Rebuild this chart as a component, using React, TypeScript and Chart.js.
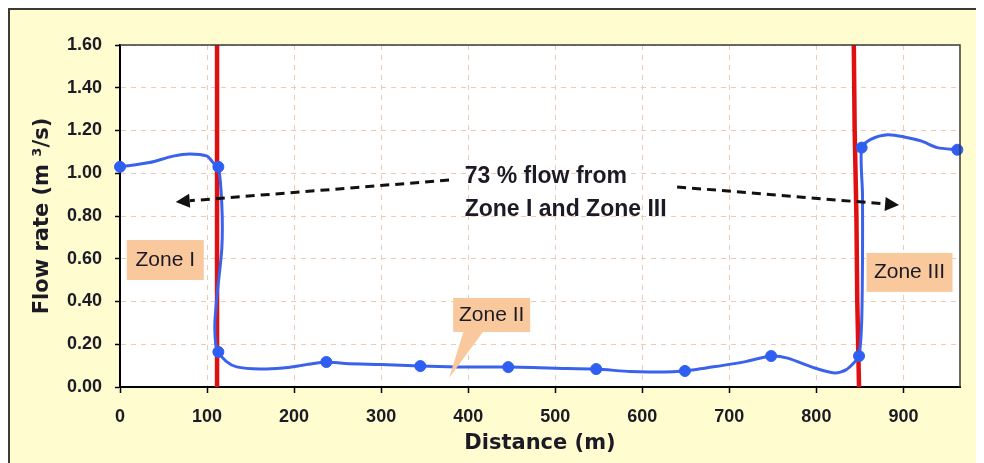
import React, { useEffect, useRef } from "react";
import { Chart, registerables } from "chart.js";

Chart.register(...registerables);

// ---- data ----
const flowDistance = [
  0, 34, 61, 80, 100, 107, 113, 117, 117, 112, 109, 110, 113, 122, 134, 161, 187, 207, 222, 237,
  259, 300, 345, 387, 446, 500, 547, 586, 614, 649, 691, 720, 748, 767, 798, 821, 834, 844, 849,
  852, 853, 853, 852, 863, 882, 901, 921, 939, 962,
];
const flowRate = [
  1.03, 1.05, 1.08, 1.09, 1.08, 1.05, 1.03, 0.85, 0.65, 0.45, 0.3, 0.2, 0.164, 0.12, 0.094, 0.084,
  0.089, 0.1, 0.11, 0.117, 0.11, 0.105, 0.098, 0.094, 0.093, 0.088, 0.084, 0.072, 0.07, 0.075, 0.1,
  0.12, 0.145, 0.135, 0.089, 0.066, 0.08, 0.117, 0.145, 0.3, 0.6, 0.9, 1.12, 1.16, 1.18, 1.17, 1.15,
  1.12, 1.11,
];
const markerDistance = [0, 113, 113, 237, 345, 446, 547, 649, 748, 849, 852, 962];
const markerFlow = [1.03, 1.03, 0.164, 0.117, 0.098, 0.093, 0.084, 0.075, 0.145, 0.145, 1.12, 1.11];

const boundaryIDistance = [111.5, 111.5];
const boundaryIFlow = [0, 1.6];
const boundaryIIIDistance = [843, 844, 846, 847, 849];
const boundaryIIIFlow = [1.6, 1.2, 0.8, 0.4, 0];

const xTickValues = [0, 100, 200, 300, 400, 500, 600, 700, 800, 900];
const yTickValues = [0, 0.2, 0.4, 0.6, 0.8, 1.0, 1.2, 1.4, 1.6];
const xMax = 965;
const yMax = 1.6;

const xTitle = "Distance (m)";
const yTitle = "Flow rate (m \u00b3/s)";
const noteLines = ["73 % flow from", "Zone I and Zone III"];
const zoneNames = ["Zone I", "Zone II", "Zone III"];

// annotation anchors (data coordinates)
const noteAnchorX = 396;
const noteAnchorY = [0.985, 0.828];
const arrowStartX = [378, 640];
const arrowStartY = [0.968, 0.936];
const arrowEndX = [64, 895];
const arrowEndY = [0.866, 0.851];
const zoneCenterX = [52, 427, 907];
const zoneCenterY = [0.594, 0.337, 0.536];
const zoneIITailX = 378;
const zoneIITailY = 0.042;

const pts = (xs: number[], ys: number[]) => xs.map((v, i) => ({ x: v, y: ys[i] }));

const TICK_FONT = "'Liberation Sans', Arial, sans-serif";
const TITLE_FONT = "'DejaVu Sans', Verdana, sans-serif";
const TEXT_COLOR = "#1c1a24";
const BOX_FILL = "#F9C99D";

const decorPlugin = {
  id: "decor",
  beforeDraw(chart: any) {
    const { ctx, chartArea: a } = chart;
    ctx.save();
    ctx.fillStyle = "#ffffff";
    ctx.fillRect(a.left, a.top, a.right - a.left, a.bottom - a.top);
    ctx.restore();
  },
  afterDatasetsDraw(chart: any) {
    const { ctx, chartArea: a, scales } = chart;
    const px = (v: number) => scales.x.getPixelForValue(v);
    const py = (v: number) => scales.y.getPixelForValue(v);
    ctx.save();
    // plot border top/right
    ctx.strokeStyle = "#3a3a3a";
    ctx.lineWidth = 1.5;
    ctx.beginPath();
    ctx.moveTo(a.left, a.top);
    ctx.lineTo(a.right, a.top);
    ctx.lineTo(a.right, a.bottom);
    ctx.stroke();

    // dashed arrows
    for (let i = 0; i < arrowStartX.length; i++) {
      const x1 = px(arrowStartX[i]);
      const y1 = py(arrowStartY[i]);
      const x2 = px(arrowEndX[i]);
      const y2 = py(arrowEndY[i]);
      const ang = Math.atan2(y2 - y1, x2 - x1);
      const head = 14;
      const bx = x2 - Math.cos(ang) * head;
      const by = y2 - Math.sin(ang) * head;
      ctx.strokeStyle = "#111";
      ctx.lineWidth = 3;
      ctx.setLineDash([9, 6]);
      ctx.beginPath();
      ctx.moveTo(x1, y1);
      ctx.lineTo(bx, by);
      ctx.stroke();
      ctx.setLineDash([]);
      ctx.fillStyle = "#111";
      ctx.beginPath();
      ctx.moveTo(x2, y2);
      ctx.lineTo(bx + Math.sin(ang) * 7, by - Math.cos(ang) * 7);
      ctx.lineTo(bx - Math.sin(ang) * 7, by + Math.cos(ang) * 7);
      ctx.closePath();
      ctx.fill();
    }

    // note text
    ctx.fillStyle = TEXT_COLOR;
    ctx.font = `bold 23px ${TICK_FONT}`;
    ctx.textAlign = "left";
    ctx.textBaseline = "middle";
    noteLines.forEach((t, i) => ctx.fillText(t, px(noteAnchorX), py(noteAnchorY[i])));

    // zone boxes
    const sizes = [
      [77, 40],
      [77, 34],
      [86, 39],
    ];
    ctx.font = `21px ${TICK_FONT}`;
    ctx.textAlign = "center";
    zoneNames.forEach((name, i) => {
      const cx = px(zoneCenterX[i]);
      const cy = py(zoneCenterY[i]);
      const [w, h] = sizes[i];
      ctx.fillStyle = BOX_FILL;
      ctx.fillRect(cx - w / 2, cy - h / 2, w, h);
      if (i === 1) {
        ctx.beginPath();
        ctx.moveTo(cx - 28, cy + h / 2 - 1);
        ctx.lineTo(cx - 8, cy + h / 2 - 1);
        ctx.lineTo(px(zoneIITailX), py(zoneIITailY));
        ctx.closePath();
        ctx.fill();
      }
      ctx.fillStyle = TEXT_COLOR;
      ctx.fillText(name, cx, cy);
    });
    ctx.restore();
  },
};

export default function App() {
  const ref = useRef<HTMLCanvasElement | null>(null);

  useEffect(() => {
    document.documentElement.style.overflow = "hidden";
    document.body.style.overflow = "hidden";
    const canvas = ref.current;
    if (!canvas) return;
    const chart = new Chart(canvas, {
      type: "scatter",
      data: {
        datasets: [
          {
            label: "measured",
            data: pts(markerDistance, markerFlow),
            showLine: false,
            pointRadius: 5.5,
            pointBackgroundColor: "#2f5ff2",
            pointBorderColor: "#2f5ff2",
            clip: false,
            order: 0,
          },
          {
            label: "flow",
            data: pts(flowDistance, flowRate),
            showLine: true,
            tension: 0.25,
            borderColor: "#3a62ea",
            borderWidth: 3,
            pointRadius: 0,
            order: 1,
          },
          {
            label: "boundary I",
            data: pts(boundaryIDistance, boundaryIFlow),
            showLine: true,
            borderColor: "#e01010",
            borderWidth: 4.5,
            pointRadius: 0,
            order: 2,
          },
          {
            label: "boundary III",
            data: pts(boundaryIIIDistance, boundaryIIIFlow),
            showLine: true,
            borderColor: "#e01010",
            borderWidth: 4.5,
            pointRadius: 0,
            order: 2,
          },
        ],
      },
      options: {
        responsive: false,
        animation: false,
        layout: { padding: { top: 35, right: 24, left: 0, bottom: 0 } },
        plugins: { legend: { display: false }, tooltip: { enabled: false } },
        scales: {
          x: {
            type: "linear",
            min: 0,
            max: xMax,
            afterBuildTicks: (axis: any) => {
              axis.ticks = xTickValues.map((v) => ({ value: v }));
            },
            afterFit: (s: any) => {
              s.height = 76;
            },
            ticks: {
              color: TEXT_COLOR,
              font: { family: TICK_FONT, size: 18, weight: "bold" },
              padding: 13,
              maxRotation: 0,
              callback: (v: any) => String(v),
            },
            grid: {
              color: "#ebcbb3",
              lineWidth: 1,
              drawTicks: true,
              tickLength: 6,
              tickColor: "#000",
              tickWidth: 1.5,
            },
            border: { display: true, color: "#000", width: 2, dash: [5, 5] },
            title: {
              display: true,
              text: xTitle,
              color: TEXT_COLOR,
              font: { family: TITLE_FONT, size: 21, weight: "bold" },
              padding: { top: 7, bottom: 7 },
            },
          },
          y: {
            type: "linear",
            min: 0,
            max: yMax,
            afterBuildTicks: (axis: any) => {
              axis.ticks = yTickValues.map((v) => ({ value: v }));
            },
            afterFit: (s: any) => {
              s.width = 110;
            },
            ticks: {
              color: TEXT_COLOR,
              font: { family: TICK_FONT, size: 18, weight: "bold" },
              padding: 13,
              callback: (v: any) => Number(v).toFixed(2),
            },
            grid: {
              color: "#ebcbb3",
              lineWidth: 1,
              drawTicks: true,
              tickLength: 5,
              tickColor: "#000",
              tickWidth: 1.5,
            },
            border: { display: true, color: "#000", width: 2, dash: [5, 5] },
            title: {
              display: true,
              text: yTitle,
              color: TEXT_COLOR,
              font: { family: TITLE_FONT, size: 21, weight: "bold" },
              padding: { top: 20, bottom: 20 },
            },
          },
        },
      },
      plugins: [decorPlugin],
    });
    return () => chart.destroy();
  }, []);

  return (
    <div
      style={{
        width: 974,
        height: 453,
        border: "2px solid #3a3a3a",
        background: "#FFFDD0",
      }}
    >
      <canvas ref={ref} width={974} height={453} style={{ display: "block", width: 974, height: 453 }} />
    </div>
  );
}
